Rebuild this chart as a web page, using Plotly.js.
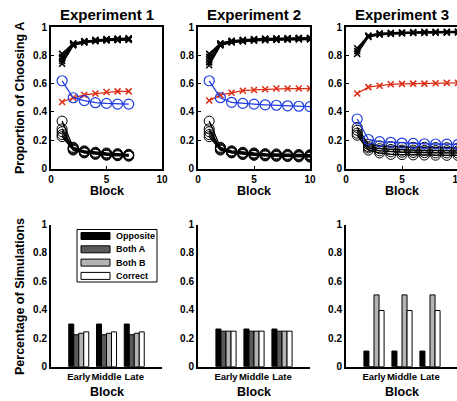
<!DOCTYPE html>
<html><head><meta charset="utf-8">
<script src="https://cdn.plot.ly/plotly-3.0.1.min.js"></script>
<style>html,body{margin:0;padding:0;overflow:hidden;background:#fff}#c{width:470px;height:401px}</style>
</head><body><div id="c"></div>
<script>
// ---------- data ----------
const blocks1 = [1,2,3,4,5,6,7];
const blocks23 = [1,2,3,4,5,6,7,8,9,10];

// Experiment 1
const exp1_blackX = [
  [0.81,0.885,0.90,0.91,0.915,0.918,0.92],
  [0.79,0.88,0.897,0.907,0.912,0.915,0.917],
  [0.78,0.877,0.895,0.905,0.91,0.913,0.915],
  [0.76,0.873,0.892,0.902,0.907,0.91,0.912],
  [0.74,0.87,0.89,0.90,0.905,0.907,0.909]
];
const exp1_blackO = [
  [0.335,0.15,0.125,0.115,0.11,0.105,0.10],
  [0.28,0.145,0.12,0.11,0.105,0.10,0.097],
  [0.26,0.14,0.117,0.107,0.10,0.097,0.094],
  [0.24,0.135,0.113,0.103,0.097,0.094,0.09],
  [0.225,0.13,0.11,0.10,0.094,0.09,0.087]
];
const exp1_red = [0.47,0.50,0.52,0.53,0.54,0.545,0.545];
const exp1_blue = [0.62,0.50,0.48,0.465,0.46,0.455,0.455];

// Experiment 2
const exp2_blackX = [
  [0.81,0.885,0.903,0.91,0.915,0.918,0.92,0.922,0.923,0.924],
  [0.79,0.88,0.90,0.907,0.912,0.915,0.917,0.919,0.92,0.921],
  [0.77,0.877,0.897,0.905,0.91,0.913,0.915,0.917,0.918,0.919],
  [0.75,0.873,0.894,0.902,0.907,0.91,0.912,0.914,0.915,0.916],
  [0.73,0.87,0.89,0.898,0.903,0.906,0.908,0.91,0.911,0.912]
];
const exp2_blackO = [
  [0.335,0.15,0.125,0.115,0.11,0.105,0.103,0.10,0.099,0.098],
  [0.28,0.145,0.12,0.11,0.105,0.10,0.098,0.096,0.094,0.093],
  [0.26,0.14,0.117,0.106,0.10,0.096,0.094,0.092,0.09,0.089],
  [0.24,0.135,0.113,0.102,0.096,0.092,0.09,0.088,0.086,0.085],
  [0.225,0.13,0.11,0.099,0.093,0.089,0.086,0.084,0.082,0.08]
];
const exp2_red = [0.48,0.52,0.535,0.55,0.555,0.56,0.565,0.565,0.565,0.565];
const exp2_blue = [0.62,0.50,0.468,0.46,0.455,0.45,0.447,0.443,0.44,0.437];

// Experiment 3
const exp3_blackX = [
  [0.85,0.94,0.955,0.96,0.962,0.965,0.966,0.967,0.967,0.968],
  [0.83,0.935,0.95,0.955,0.958,0.96,0.962,0.963,0.964,0.965],
  [0.81,0.93,0.945,0.95,0.955,0.957,0.958,0.96,0.96,0.961]
];
const exp3_blackO = [
  [0.29,0.17,0.16,0.155,0.15,0.15,0.15,0.148,0.147,0.145],
  [0.27,0.155,0.14,0.135,0.13,0.13,0.128,0.127,0.126,0.125],
  [0.25,0.145,0.125,0.118,0.115,0.113,0.112,0.11,0.11,0.108],
  [0.235,0.13,0.11,0.10,0.098,0.096,0.095,0.094,0.093,0.092]
];
const exp3_red = [0.53,0.575,0.585,0.595,0.598,0.60,0.60,0.603,0.605,0.605];
const exp3_blue = [0.35,0.205,0.19,0.185,0.18,0.177,0.175,0.173,0.172,0.17];

// Bottom bars
const categories = ['Early','Middle','Late'];
const seriesNames = ['Opposite','Both A','Both B','Correct'];
const exp1_opposite = [0.30,0.30,0.30];
const exp1_bothA   = [0.225,0.225,0.225];
const exp1_bothB   = [0.235,0.235,0.235];
const exp1_correct = [0.245,0.245,0.245];
const exp2_opposite = [0.265,0.265,0.265];
const exp2_bothA   = [0.25,0.25,0.25];
const exp2_bothB   = [0.25,0.25,0.25];
const exp2_correct = [0.25,0.25,0.25];
const exp3_opposite = [0.11,0.11,0.11];
const exp3_bothA   = [0,0,0];
const exp3_bothB   = [0.505,0.505,0.505];
const exp3_correct = [0.395,0.395,0.395];

const panelTitles = ['Experiment 1','Experiment 2','Experiment 3'];

// ---------- layout helpers ----------
const W = 470, H = 401;
const px = x => x / W;
const py = y => 1 - y / H;
const FONT = 'Liberation Sans, Arial, Helvetica, sans-serif';
const RED = 'rgb(222,45,20)';
const BLUE = 'rgb(30,60,225)';
const barColors = ['#000000','#5a5a5a','#b4b4b4','#ffffff'];

const xDom = [[51,162],[198,310],[346,458]];
const topY = [27,168.5];
const botY = [224.5,366.7];

const traces = [];
function lineTraces(xs, blackX, blackO, red, blue, k) {
  const xa = 'x' + (k === 1 ? '' : k), ya = 'y' + (k === 1 ? '' : k);
  blackX.forEach(v => traces.push({x: xs, y: v, xaxis: xa, yaxis: ya, type: 'scatter', mode: 'lines+markers',
    line: {color: '#000', width: 1.5}, marker: {symbol: 'x-thin-open', size: 6, color: '#000', line: {width: 1.5, color: '#000'}}, showlegend: false}));
  blackO.forEach(v => traces.push({x: xs, y: v, xaxis: xa, yaxis: ya, type: 'scatter', mode: 'lines+markers',
    line: {color: '#000', width: 1.3}, marker: {symbol: 'circle-open', size: 10, color: '#000', line: {width: 1, color: '#000'}}, showlegend: false}));
  traces.push({x: xs, y: red, xaxis: xa, yaxis: ya, type: 'scatter', mode: 'lines+markers',
    line: {color: RED, width: 1.3}, marker: {symbol: 'x-thin-open', size: 6, color: RED, line: {width: 1.5, color: RED}}, showlegend: false});
  traces.push({x: xs, y: blue, xaxis: xa, yaxis: ya, type: 'scatter', mode: 'lines+markers',
    line: {color: BLUE, width: 1.3}, marker: {symbol: 'circle-open', size: 10, color: BLUE, line: {width: 1.2, color: BLUE}}, showlegend: false});
}
lineTraces(blocks1, exp1_blackX, exp1_blackO, exp1_red, exp1_blue, 1);
lineTraces(blocks23, exp2_blackX, exp2_blackO, exp2_red, exp2_blue, 2);
lineTraces(blocks23, exp3_blackX, exp3_blackO, exp3_red, exp3_blue, 3);

const barSets = [
  [exp1_opposite, exp1_bothA, exp1_bothB, exp1_correct],
  [exp2_opposite, exp2_bothA, exp2_bothB, exp2_correct],
  [exp3_opposite, exp3_bothA, exp3_bothB, exp3_correct]
];
barSets.forEach((set, i) => {
  const k = i + 4;
  set.forEach((vals, j) => traces.push({
    type: 'bar', x: categories, y: vals, xaxis: 'x' + k, yaxis: 'y' + k, name: seriesNames[j],
    marker: {color: barColors[j], line: {color: '#000', width: 1}}, showlegend: false
  }));
});

const tickFont = {family: FONT, size: 10, color: '#000', weight: 'bold'};
const layout = {
  width: W, height: H, margin: {l: 0, r: 0, t: 0, b: 0},
  paper_bgcolor: '#fff', plot_bgcolor: '#fff',
  barmode: 'group', bargap: 0.28, bargroupgap: 0,
  showlegend: false, font: {family: FONT, color: '#000'},
  annotations: [], shapes: []
};
for (let i = 0; i < 3; i++) {
  const k = i + 1, s = k === 1 ? '' : String(k);
  layout['xaxis' + s] = {domain: [px(xDom[i][0]), px(xDom[i][1])], anchor: 'y' + s, range: [0, 10],
    tickvals: [0, 5, 10], showline: true, mirror: true, linewidth: 2, linecolor: '#000',
    ticks: 'inside', ticklen: 3, tickwidth: 1, tickcolor: '#000', showgrid: false, zeroline: false, tickfont: tickFont};
  layout['yaxis' + s] = {domain: [py(topY[1]), py(topY[0])], anchor: 'x' + s, range: [0, 1],
    tickvals: [0, 0.2, 0.4, 0.6, 0.8, 1], showline: true, mirror: true, linewidth: 2, linecolor: '#000',
    ticks: 'inside', ticklen: 3, tickwidth: 1, tickcolor: '#000', showgrid: false, zeroline: false, tickfont: tickFont};
  const kb = i + 4;
  layout['xaxis' + kb] = {domain: [px(xDom[i][0]), px(xDom[i][1])], anchor: 'y' + kb, type: 'category',
    range: [-1, 3], showline: true, linewidth: 2, linecolor: '#000', ticks: '', showgrid: false, zeroline: false,
    tickangle: 0, tickfont: {family: FONT, size: 9.5, color: '#000', weight: 'bold'}};
  layout['yaxis' + kb] = {domain: [py(botY[1]), py(botY[0])], anchor: 'x' + kb, range: [0, 1],
    tickvals: [0, 0.2, 0.4, 0.6, 0.8, 1], showline: true, linewidth: 2, linecolor: '#000', ticks: '',
    showgrid: false, zeroline: false, tickfont: tickFont};

  const cx = (xDom[i][0] + xDom[i][1]) / 2;
  layout.annotations.push({text: panelTitles[i], xref: 'paper', yref: 'paper', x: px(cx), y: py(14),
    xanchor: 'center', yanchor: 'middle', showarrow: false, font: {family: FONT, size: 15, color: '#000', weight: 'bold'}});
  layout.annotations.push({text: 'Block', xref: 'paper', yref: 'paper', x: px(cx), y: py(191.5),
    xanchor: 'center', yanchor: 'middle', showarrow: false, font: {family: FONT, size: 12.5, color: '#000', weight: 'bold'}});
  layout.annotations.push({text: 'Block', xref: 'paper', yref: 'paper', x: px(cx), y: py(391.5),
    xanchor: 'center', yanchor: 'middle', showarrow: false, font: {family: FONT, size: 12.5, color: '#000', weight: 'bold'}});
}
layout.annotations.push({text: 'Proportion of Choosing A', xref: 'paper', yref: 'paper', x: px(20), y: py(98),
  xanchor: 'center', yanchor: 'middle', textangle: -90, showarrow: false, font: {family: FONT, size: 12.5, color: '#000', weight: 'bold'}});
layout.annotations.push({text: 'Percentage of Simulations', xref: 'paper', yref: 'paper', x: px(20), y: py(297),
  xanchor: 'center', yanchor: 'middle', textangle: -90, showarrow: false, font: {family: FONT, size: 12.5, color: '#000', weight: 'bold'}});

// legend box (drawn manually to mimic wide swatches)
layout.shapes.push({type: 'rect', xref: 'paper', yref: 'paper', x0: px(77), x1: px(157), y0: py(229.5), y1: py(282),
  line: {color: '#000', width: 1}, fillcolor: '#fff'});
seriesNames.forEach((n, j) => {
  const yc = 236 + j * 13.3;
  layout.shapes.push({type: 'rect', xref: 'paper', yref: 'paper', x0: px(81), x1: px(110), y0: py(yc - 3.5), y1: py(yc + 3.5),
    line: {color: '#000', width: 1}, fillcolor: barColors[j]});
  layout.annotations.push({text: n, xref: 'paper', yref: 'paper', x: px(113.5), y: py(yc), xanchor: 'left', yanchor: 'middle',
    showarrow: false, font: {family: FONT, size: 9, color: '#000', weight: 'bold'}});
});

Plotly.newPlot('c', traces, layout, {staticPlot: true, displayModeBar: false});
</script></body></html>
